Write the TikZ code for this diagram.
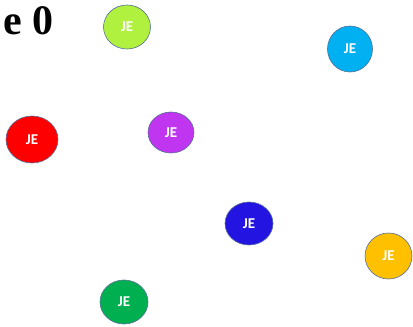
\documentclass[tikz,border=0pt]{standalone}
\usepackage{fontspec}
\setmainfont{Carlito}
\newfontfamily\titlefont{Liberation Serif}
\usetikzlibrary{shapes.geometric}

\definecolor{limeJE}{RGB}{176,240,62}
\definecolor{cyanJE}{RGB}{0,176,240}
\definecolor{redJE}{RGB}{255,0,0}
\definecolor{purpleJE}{RGB}{192,54,240}
\definecolor{blueJE}{RGB}{36,20,226}
\definecolor{yellowJE}{RGB}{255,192,0}
\definecolor{greenJE}{RGB}{0,176,80}
\definecolor{edgeJE}{RGB}{84,110,150}

\begin{document}
\begin{tikzpicture}[
  x=1pt, y=-1pt,
  person/.style={ellipse, draw=edgeJE, line width=0.6pt, inner sep=0pt,
    text=white, font=\bfseries\fontsize{15}{17}\selectfont},
  title/.style={font=\titlefont\bfseries\fontsize{42}{46}\selectfont,
    inner sep=0pt, anchor=base east},
]
\useasboundingbox (0,0) rectangle (413,327);

% --- title, cut off at the left edge ---
\node[title] (heading) at (54,34) {e 0};

% --- people ---
\node[person, fill=limeJE, minimum width=47pt, minimum height=44pt] (lime) at (127,27) {JE};
\node[person, fill=cyanJE, minimum width=45pt, minimum height=46pt] (cyan) at (350,49) {JE};
\node[person, fill=redJE, minimum width=52pt, minimum height=47pt] (red) at (32,139.5) {JE};
\node[person, fill=purpleJE, minimum width=46pt, minimum height=41pt] (purple) at (171,132.5) {JE};
\node[person, fill=blueJE, minimum width=48pt, minimum height=43pt] (blue) at (249,223.5) {JE};
\node[person, fill=yellowJE, minimum width=47pt, minimum height=46pt] (yellow) at (388.5,256) {JE};
\node[person, fill=greenJE, minimum width=48pt, minimum height=44pt] (green) at (124,302) {JE};

\end{tikzpicture}
\end{document}
